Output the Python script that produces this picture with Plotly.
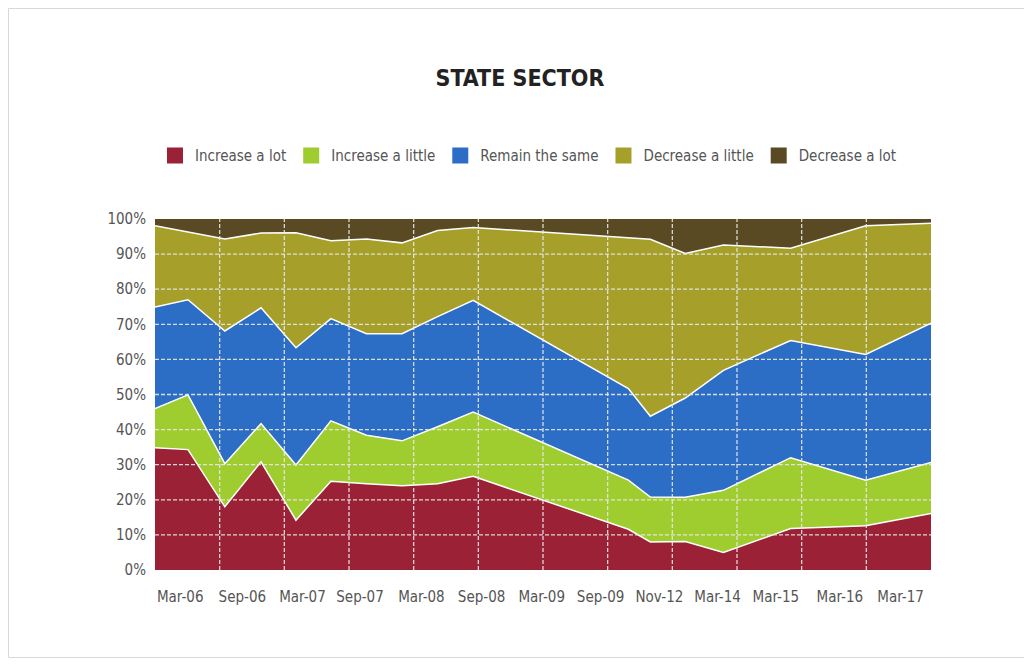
import plotly.graph_objects as go

# ---- data ----
survey_x = [0.0, 0.51, 1.08, 1.64, 2.18, 2.72, 3.27, 3.82, 4.37, 4.92,
            7.32, 7.66, 8.20, 8.79, 9.83, 10.99, 12.0]

increase_a_lot = [34.8, 34.3, 18.0, 30.8, 14.2, 25.3, 24.6, 24.0, 24.6, 26.7,
                  11.6, 8.0, 8.1, 5.0, 11.8, 12.6, 16.1]
increase_a_little = [11.2, 15.6, 12.3, 10.9, 15.7, 17.2, 13.8, 12.8, 16.2, 18.3,
                     14.0, 12.8, 12.6, 17.7, 20.2, 13.0, 14.5]
remain_the_same = [28.9, 27.1, 37.8, 33.0, 33.4, 29.1, 28.9, 30.5, 31.4, 31.8,
                   26.1, 23.0, 28.3, 34.2, 33.4, 35.8, 39.7]
decrease_a_little = [23.2, 19.3, 26.2, 21.3, 32.8, 22.2, 27.0, 25.9, 24.5, 20.8,
                     42.9, 50.4, 41.2, 35.7, 26.3, 36.7, 28.5]
decrease_a_lot = [1.9, 3.7, 5.7, 4.0, 3.9, 6.2, 5.7, 6.8, 3.3, 2.4,
                  5.4, 5.8, 9.8, 7.4, 8.3, 1.9, 1.2]

tick_labels = ["Mar-06", "Sep-06", "Mar-07", "Sep-07", "Mar-08", "Sep-08", "Mar-09",
               "Sep-09", "Nov-12", "Mar-14", "Mar-15", "Mar-16", "Mar-17"]
tick_positions = [0.39, 1.35, 2.28, 3.17, 4.12, 5.05, 5.98, 6.89, 7.80, 8.70, 9.60, 10.59, 11.53]

y_tick_values = list(range(0, 101, 10))
y_tick_labels = [f"{v}%" for v in y_tick_values]

series_names = ["Increase a lot", "Increase a little", "Remain the same",
                "Decrease a little", "Decrease a lot"]
series_values = [increase_a_lot, increase_a_little, remain_the_same,
                 decrease_a_little, decrease_a_lot]
series_colors = ["#9B2236", "#9FCC2E", "#2C6DC5", "#A69F2A", "#594A24"]

grid_x = list(range(1, 12))
grid_y = list(range(10, 100, 10))

FONT = "Liberation Sans Narrow, DejaVu Sans Condensed, Roboto Condensed, Arial Narrow, sans-serif"

W, H = 1022, 650
ML, MR, MT, MB = 147, 99, 211, 88
PW, PH = W - ML - MR, H - MT - MB

fig = go.Figure()

for i, (name, vals, col) in enumerate(zip(series_names, series_values, series_colors)):
    fig.add_trace(go.Scatter(
        x=survey_x, y=vals, name=name, mode="lines", stackgroup="one",
        fillcolor=col,
        line=dict(color="white", width=0 if i == len(series_names) - 1 else 1.5),
        showlegend=False,
    ))

# legend entries with square swatches
for name, col in zip(series_names, series_colors):
    fig.add_trace(go.Scatter(
        x=[None], y=[None], mode="markers", name=name,
        marker=dict(symbol="square", size=18, color=col),
        showlegend=True,
    ))

# dashed gridlines drawn above the areas
for gx in grid_x:
    fig.add_shape(type="line", xref="x", yref="paper", x0=gx, x1=gx, y0=0, y1=1,
                  layer="above", line=dict(color="rgba(232,232,232,0.9)", width=1.3, dash="4px,2px"))
for gy in grid_y:
    fig.add_shape(type="line", xref="paper", yref="y", x0=0, x1=1, y0=gy, y1=gy,
                  layer="above", line=dict(color="rgba(232,232,232,0.9)", width=1.3, dash="4px,2px"))

# outer frame around the whole figure
fig.add_shape(type="rect", xref="paper", yref="paper",
              x0=(-ML + 0.5) / PW, x1=(PW + MR - 0.5) / PW,
              y0=(-MB + 0.5) / PH, y1=(PH + MT - 0.5) / PH,
              line=dict(color="#d8d8d8", width=1), layer="below")

fig.update_layout(
    width=W, height=H,
    margin=dict(l=ML, r=MR, t=MT, b=MB),
    paper_bgcolor="white", plot_bgcolor="white",
    font=dict(family=FONT, color="#555555", size=15),
    title=dict(text="<b>STATE SECTOR</b>", x=(520 - 8) / W, xref="container", xanchor="center",
               y=1 - (78 - 8) / H, yanchor="middle", yref="container",
               font=dict(family=FONT, size=23, color="#222222")),
    legend=dict(orientation="h", x=0.0, xanchor="left", y=1.18, yanchor="middle",
                font=dict(family=FONT, size=15, color="#555555"),
                traceorder="normal", itemwidth=30, bgcolor="rgba(0,0,0,0)"),
    showlegend=True,
)

fig.update_xaxes(range=[0, 12], tickvals=tick_positions, ticktext=tick_labels,
                 showgrid=False, zeroline=False, showline=False, ticks="",
                 ticklabelstandoff=16, tickfont=dict(size=15, color="#555555"))
fig.update_yaxes(range=[0, 100], tickvals=y_tick_values, ticktext=y_tick_labels,
                 showgrid=False, zeroline=False, showline=False, ticks="",
                 ticklabelstandoff=8, tickfont=dict(size=15, color="#555555"))

fig.write_html("out.html")
